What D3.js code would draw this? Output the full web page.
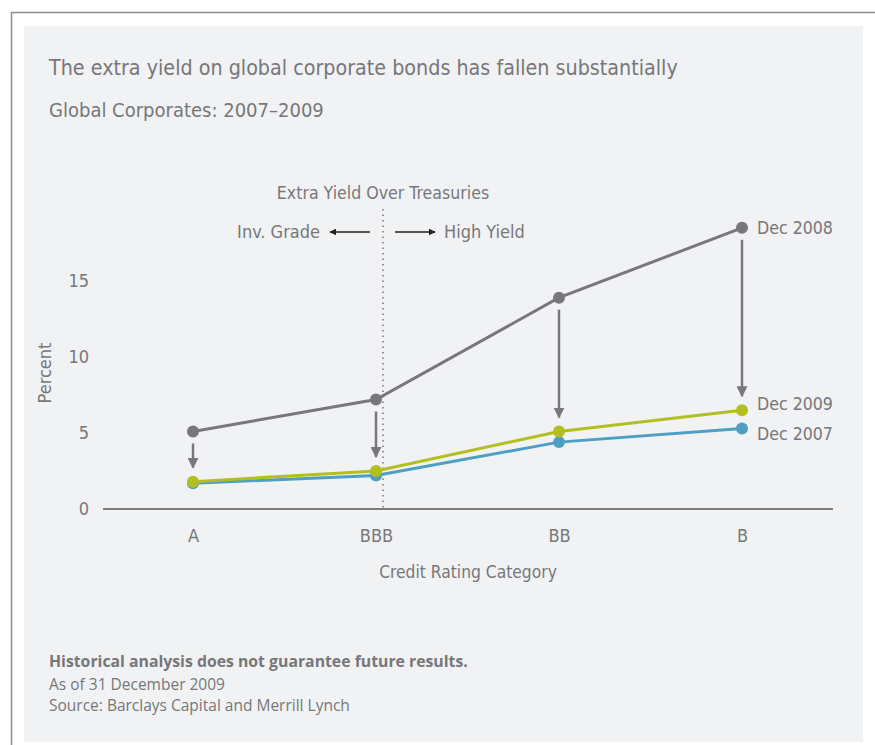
<!DOCTYPE html>
<html lang="en">
<head>
    <meta charset="UTF-8">
    <title>Global Corporates 2007-2009</title>
    <script src="https://d3js.org/d3.v7.min.js"></script>
    <style>
        body { margin: 0; background: #fff; }
        svg text { fill: #77777a; }
    </style>
</head>
<body>
<div id="chart"></div>
<script>
    // data
    const categories = ["A", "BBB", "BB", "B"];
    const dec2008 = [5.1, 7.2, 13.9, 18.5];
    const dec2009 = [1.8, 2.5, 5.1, 6.5];
    const dec2007 = [1.7, 2.2, 4.4, 5.3];
    const yTicks = [0, 5, 10, 15];

    const series = [
        {name: "Dec 2008", values: dec2008, color: "#78787b", labelDy: 0},
        {name: "Dec 2007", values: dec2007, color: "#4d9fc3", labelDy: 5},
        {name: "Dec 2009", values: dec2009, color: "#b3bf1f", labelDy: -6}
    ];

    const condensed = "'Liberation Sans Narrow', 'DejaVu Sans Condensed', sans-serif";
    const plain = "'Open Sans', 'Noto Sans', sans-serif";

    function drawChart(width, height) {
        const svg = d3.select("#chart").append("svg")
            .attr("width", width)
            .attr("height", height);

        // outer frame + panel
        svg.append("path")
            .attr("d", `M11.5,${height} V12.5 H${width}`)
            .attr("fill", "none")
            .attr("stroke", "#8c8c8c")
            .attr("stroke-width", 1.5);
        svg.append("rect")
            .attr("x", 24).attr("y", 26)
            .attr("width", 839).attr("height", 716)
            .attr("fill", "#f1f2f4");

        svg.append("text")
            .attr("x", 49).attr("y", 75)
            .style("font-family", condensed)
            .style("font-size", "21.3px")
            .text("The extra yield on global corporate bonds has fallen substantially");
        svg.append("text")
            .attr("x", 49).attr("y", 117)
            .style("font-family", condensed)
            .style("font-size", "20px")
            .text("Global Corporates: 2007\u20132009");

        const x = d3.scalePoint()
            .domain(categories)
            .range([193, 742]);
        const y = d3.scaleLinear()
            .domain([0, 15])
            .range([509, 281]);

        // axis line
        svg.append("line")
            .attr("x1", 103).attr("x2", 833)
            .attr("y1", y(0)).attr("y2", y(0))
            .attr("stroke", "#555").attr("stroke-width", 1.5);

        const yAxis = svg.append("g")
            .attr("transform", "translate(89,0)")
            .call(d3.axisLeft(y).tickValues(yTicks).tickSize(0).tickPadding(0));
        yAxis.select(".domain").remove();
        yAxis.selectAll("text")
            .style("font-family", condensed)
            .style("font-size", "18px")
            .style("fill", "#77777a");

        const xAxis = svg.append("g")
            .attr("transform", `translate(0,${y(0) + 20})`)
            .call(d3.axisBottom(x).tickSize(0).tickPadding(0));
        xAxis.select(".domain").remove();
        xAxis.selectAll("text")
            .style("font-family", condensed)
            .style("font-size", "18px")
            .style("fill", "#77777a");

        svg.append("text")
            .attr("transform", `translate(51,${(y(0) + y(15)) / 2 - 22}) rotate(-90)`)
            .attr("text-anchor", "middle")
            .style("font-family", condensed)
            .style("font-size", "18px")
            .text("Percent");
        svg.append("text")
            .attr("x", 468).attr("y", 578)
            .attr("text-anchor", "middle")
            .style("font-family", condensed)
            .style("font-size", "17.3px")
            .text("Credit Rating Category");

        // investment grade / high yield divider
        const divX = 383;
        svg.append("line")
            .attr("x1", divX).attr("x2", divX)
            .attr("y1", 209).attr("y2", y(0))
            .attr("stroke", "#77777a")
            .attr("stroke-width", 1.5)
            .attr("stroke-dasharray", "1.5,4");

        svg.append("text")
            .attr("x", divX).attr("y", 199)
            .attr("text-anchor", "middle")
            .style("font-family", condensed)
            .style("font-size", "17.6px")
            .text("Extra Yield Over Treasuries");
        svg.append("text")
            .attr("x", 320).attr("y", 238)
            .attr("text-anchor", "end")
            .style("font-family", condensed)
            .style("font-size", "18px")
            .text("Inv. Grade");
        svg.append("text")
            .attr("x", 444).attr("y", 238)
            .style("font-family", condensed)
            .style("font-size", "18px")
            .text("High Yield");

        const defs = svg.append("defs");
        defs.append("marker")
            .attr("id", "headSmall")
            .attr("viewBox", "0 0 10 10")
            .attr("refX", 9).attr("refY", 5)
            .attr("markerWidth", 7).attr("markerHeight", 7)
            .attr("markerUnits", "userSpaceOnUse")
            .attr("orient", "auto")
            .append("path").attr("d", "M0,0 L10,5 L0,10 Z").attr("fill", "#222");
        defs.append("marker")
            .attr("id", "headBig")
            .attr("viewBox", "0 0 10 10")
            .attr("refX", 9).attr("refY", 5)
            .attr("markerWidth", 11).attr("markerHeight", 11)
            .attr("markerUnits", "userSpaceOnUse")
            .attr("orient", "auto")
            .append("path").attr("d", "M0,0 L10,5 L0,10 Z").attr("fill", "#78787b");

        svg.append("line")
            .attr("x1", 370).attr("x2", 330).attr("y1", 232).attr("y2", 232)
            .attr("stroke", "#222").attr("stroke-width", 1.5)
            .attr("marker-end", "url(#headSmall)");
        svg.append("line")
            .attr("x1", 395).attr("x2", 435).attr("y1", 232).attr("y2", 232)
            .attr("stroke", "#222").attr("stroke-width", 1.5)
            .attr("marker-end", "url(#headSmall)");

        // drop arrows from Dec 2008 to Dec 2009
        svg.selectAll(".drop")
            .data(categories)
            .join("line")
            .attr("class", "drop")
            .attr("x1", d => x(d)).attr("x2", d => x(d))
            .attr("y1", (d, i) => y(dec2008[i]) + 12)
            .attr("y2", (d, i) => y(dec2009[i]) - 14)
            .attr("stroke", "#78787b")
            .attr("stroke-width", 2.5)
            .attr("marker-end", "url(#headBig)");

        const line = d3.line()
            .x((d, i) => x(categories[i]))
            .y(d => y(d));

        series.forEach(s => {
            const g = svg.append("g");
            g.append("path")
                .attr("d", line(s.values))
                .attr("fill", "none")
                .attr("stroke", s.color)
                .attr("stroke-width", 3);
            g.selectAll("circle")
                .data(s.values)
                .join("circle")
                .attr("cx", (d, i) => x(categories[i]))
                .attr("cy", d => y(d))
                .attr("r", 6)
                .attr("fill", s.color);
            const last = s.values[s.values.length - 1];
            g.append("text")
                .attr("x", x(categories[categories.length - 1]) + 15)
                .attr("y", y(last) + s.labelDy)
                .attr("dy", "0.35em")
                .style("font-family", condensed)
                .style("font-size", "17.6px")
                .text(s.name);
        });

        // footnotes
        svg.append("text")
            .attr("x", 49).attr("y", 667)
            .style("font-family", plain)
            .style("font-size", "15.8px")
            .style("font-weight", "bold")
            .text("Historical analysis does not guarantee future results.");
        svg.append("text")
            .attr("x", 49).attr("y", 690)
            .style("font-family", plain)
            .style("font-size", "15.5px")
            .text("As of 31 December 2009");
        svg.append("text")
            .attr("x", 49).attr("y", 711)
            .style("font-family", plain)
            .style("font-size", "15.5px")
            .text("Source: Barclays Capital and Merrill Lynch");
    }

    document.addEventListener("DOMContentLoaded", () => {
        drawChart(875, 745);
    });
</script>
</body>
</html>
